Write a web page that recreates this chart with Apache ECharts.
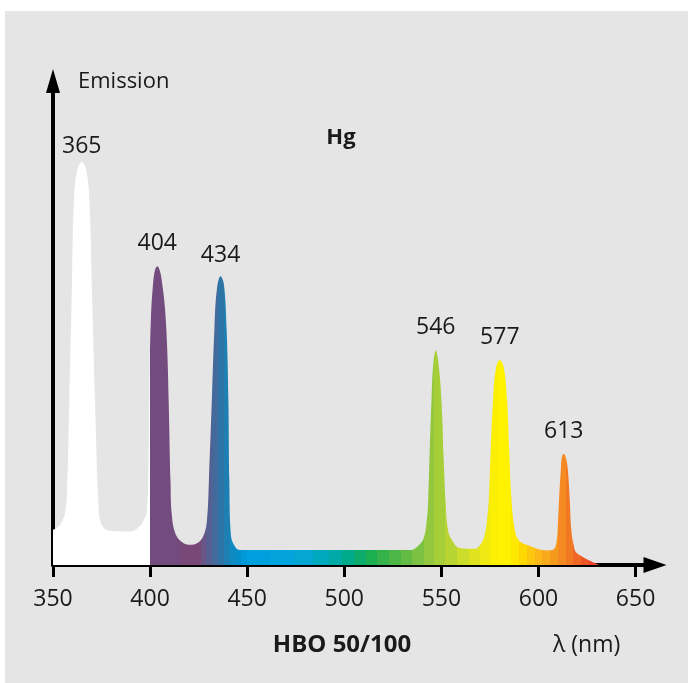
<!DOCTYPE html>
<html>
<head>
<meta charset="utf-8">
<script src="https://cdn.jsdelivr.net/npm/echarts@6/dist/echarts.min.js"></script>
<style>
  body { margin: 0; background: #ffffff; }
  #panel { position: absolute; left: 5px; top: 11px; right: 0; bottom: 0; background: #e5e5e5; }
  #chart { position: absolute; left: 0; top: 0; width: 688px; height: 683px; }
</style>
</head>
<body>
<div id="panel"></div>
<div id="chart"></div>
<script>
// Hg-Spektrum (HBO 50/100)
const wavelengths = [350, 352.6, 355.1, 356.4, 357.3, 358.4, 359.6, 360.8, 362.4, 364.8, 367.0, 368.7, 370.2, 371.6, 373.3, 374.2, 376.2, 379.3, 389.6, 393.7, 396.3, 398.4,
  399.2, 399.7, 400.4, 401.5, 402.5, 403.7, 405.1, 406.3, 407.6, 408.7, 409.6, 410.5, 411.2, 413.3, 416.9, 420.5, 424.6, 427.7, 429.3,
  430.3, 431.8, 433.1, 434.4, 436.3, 438.0, 439.4, 440.3, 440.8, 441.6, 443.2, 446.2, 534.2, 537.9, 540.9, 542.5,
  543.2, 544.0, 544.9, 545.8, 547.1, 548.4, 550.0, 551.2, 552.1, 553.4, 555.4, 559.5, 567.2, 570.3, 572.3,
  573.5, 574.4, 575.4, 576.6, 578.0, 580.1, 582.1, 583.8, 584.9, 586.1, 587.8, 589.8, 593.8, 604.9, 607.3,
  609.2, 610.1, 610.6, 611.5, 612.0, 613.0, 614.1, 615.1, 616.1, 616.9, 618.1, 619.7, 631.5];
const emission = [8.7, 9.4, 11.2, 13.5, 19.0, 41.0, 65.9, 90.7, 97.7, 100, 98.2, 90.7, 65.9, 41.0, 16.2, 11.2, 9.2, 8.5, 8.3, 9.2, 10.7, 13.7,
  26.1, 46.0, 60.9, 69.6, 73.1, 74.1, 72.8, 69.5, 64.0, 55.0, 40.0, 21.1, 12.4, 7.5, 5.5, 5.0, 5.5, 7.5, 11.2,
  21.1, 41.0, 58.4, 68.4, 71.6, 69.6, 58.4, 41.0, 21.1, 7.5, 5.0, 3.7, 3.7, 4.7, 6.7, 11.2,
  16.2, 28.6, 41.0, 49.7, 53.2, 50.5, 41.0, 26.1, 16.2, 8.7, 6.2, 4.2, 4.0, 5.2, 7.5,
  11.2, 16.2, 28.6, 41.0, 48.5, 50.8, 49.0, 41.0, 28.6, 16.2, 8.7, 6.2, 5.0, 3.6, 3.7,
  5.4, 11.2, 16.2, 23.6, 26.6, 27.6, 26.6, 23.6, 16.2, 8.7, 5.0, 3.0, 0];

const peakNames = ['365', '404', '434', '546', '577', '613'];
const peakNm = [364.8, 403.7, 436.3, 547.1, 580.1, 613.0];
const peakEmission = [100, 74.1, 71.6, 53.2, 50.8, 27.6];

const tickValues = [350, 400, 450, 500, 550, 600, 650];

// Farbbänder des Spektrums
const bandStarts = [350, 400, 416, 426, 429, 432, 435, 438, 441, 444, 447, 450, 462, 474, 484, 492, 499, 505, 511, 517, 523, 529, 535, 541, 546,
  552, 558, 564, 570, 575, 579, 586, 590, 594, 598, 602, 606, 610, 614, 618, 622, 626, 630];
const bandColors = ['#ffffff', '#744b7e', '#794877', '#6b5486', '#575f90', '#44699b', '#2f74a7', '#1e7fb3', '#0f89c1', '#048fcb', '#0098d6', '#00a0df',
  '#03a3de', '#05a7d2', '#00a9bd', '#00aaa6', '#00ab8b', '#0dac6c', '#1baf52', '#35b34a', '#4cb747', '#63bb45', '#7bc142', '#93c73d', '#a6ce39',
  '#b8d433', '#cbdc2a', '#dfe21f', '#f1e913', '#fcef06', '#fff200', '#ffe800', '#fed800', '#fdc710', '#fbb718', '#f9a91c', '#f69a1e', '#f48a21',
  '#f27924', '#f06726', '#ee5526', '#ec4427', '#e83228'];

const font = '"Open Sans", "DejaVu Sans", sans-serif';
const ink = '#1a1a1a';
// Abstand Beschriftung -> Peakspitze
const labelGap = [4, 11, 9, 11, 11, 11];

let pieces = bandStarts.map(function (s, i) {
  return { gte: s, lt: i < bandStarts.length - 1 ? bandStarts[i + 1] : 700, color: bandColors[i] };
});

let myChart = echarts.init(document.getElementById('chart'));
let option = {
  backgroundColor: 'transparent',
  animation: false,
  grid: { left: 53, top: 81, right: 33, bottom: 118, containLabel: false },
  visualMap: {
    type: 'piecewise',
    show: false,
    dimension: 0,
    seriesIndex: 0,
    pieces: pieces
  },
  xAxis: {
    type: 'value',
    min: 350,
    max: 660,
    splitLine: { show: false },
    axisLine: {
      lineStyle: { color: '#000', width: 4 },
      symbol: ['none', 'triangle'],
      symbolSize: [16, 23]
    },
    axisTick: { customValues: tickValues, length: 12, lineStyle: { color: '#000', width: 3 } },
    axisLabel: {
      customValues: tickValues,
      margin: 23,
      color: ink,
      fontSize: 23,
      fontFamily: font
    }
  },
  yAxis: {
    type: 'value',
    min: 0,
    max: 120,
    splitLine: { show: false },
    axisTick: { show: false },
    axisLabel: { show: false },
    axisLine: {
      lineStyle: { color: '#000', width: 4 },
      symbol: ['none', 'triangle'],
      symbolSize: [14, 24]
    }
  },
  series: [
    {
      type: 'line',
      data: wavelengths.map(function (w, i) { return [w, emission[i]]; }),
      showSymbol: false,
      smooth: 0.4,
      lineStyle: { width: 0 },
      areaStyle: { opacity: 1 }
    },
    {
      type: 'scatter',
      data: peakNm.map(function (w, i) {
        return { value: [w, peakEmission[i], peakNames[i]], label: { distance: labelGap[i] } };
      }),
      symbolSize: 0,
      itemStyle: { opacity: 1 },
      label: {
        show: true,
        position: 'top',
        formatter: function (p) { return p.value[2]; },
        color: ink,
        opacity: 1,
        fontSize: 23,
        fontFamily: font
      }
    }
  ],
  graphic: [
    { type: 'text', x: 78, y: 82, style: { text: 'Emission', fill: ink, font: '22px ' + font, align: 'left', verticalAlign: 'middle' } },
    { type: 'text', x: 341, y: 138, style: { text: 'Hg', fill: ink, font: 'bold 22px ' + font, align: 'center', verticalAlign: 'middle' } },
    { type: 'text', x: 93, y: 543, style: { text: 'UV', fill: ink, font: 'bold 22px ' + font, align: 'center', verticalAlign: 'middle' } },
    { type: 'text', x: 342, y: 645, style: { text: 'HBO 50/100', fill: ink, font: 'bold 24px ' + font, align: 'center', verticalAlign: 'middle' } },
    { type: 'text', x: 553, y: 645, style: { text: 'λ (nm)', fill: ink, font: '23px ' + font, align: 'left', verticalAlign: 'middle' } }
  ]
};
myChart.setOption(option);
</script>
</body>
</html>
